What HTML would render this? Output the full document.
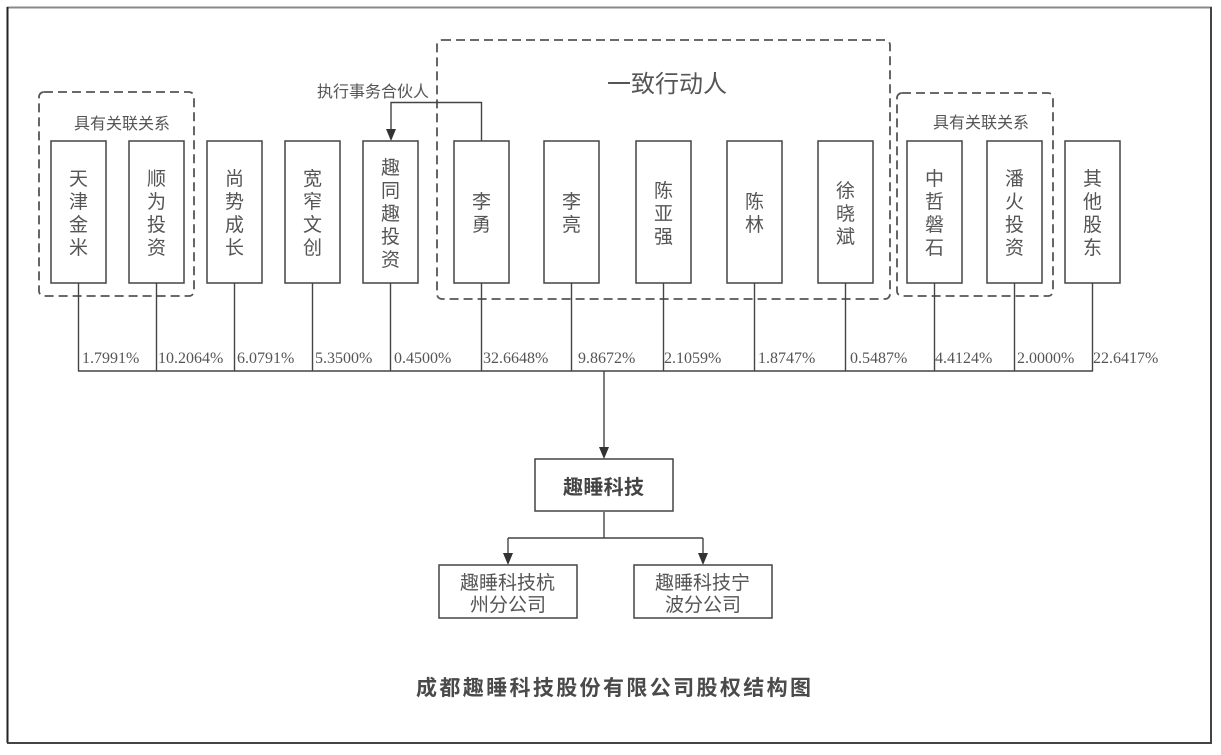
<!DOCTYPE html>
<html><head><meta charset="utf-8"><style>
html,body{margin:0;padding:0;background:#fff;}
svg{display:block;}
.cj{font-family:"Liberation Sans","Noto Sans CJK SC",sans-serif;fill:#555;}
.pc{font-family:"Liberation Serif",serif;font-size:16px;fill:#555;}
</style></head><body>
<svg width="1221" height="755" viewBox="0 0 1221 755" xmlns="http://www.w3.org/2000/svg">
<rect x="0" y="0" width="1221" height="755" fill="#fff"/>
<!-- outer frame -->
<line x1="7" y1="7.5" x2="1212" y2="7.5" stroke="#888" stroke-width="2"/>
<line x1="7.5" y1="7" x2="7.5" y2="743" stroke="#222" stroke-width="2"/>
<line x1="1211" y1="7" x2="1211" y2="743" stroke="#444" stroke-width="2"/>
<line x1="7" y1="743" x2="1212" y2="743" stroke="#444" stroke-width="2"/>

<!-- dashed groups -->
<g fill="none" stroke="#555" stroke-width="1.8" stroke-dasharray="9,5">
<rect x="39" y="92" width="155" height="204" rx="5"/>
<rect x="437" y="40" width="453" height="259" rx="5"/>
<rect x="897" y="93" width="156" height="203" rx="5"/>
</g>

<text class="cj" x="122" y="129" font-size="16" text-anchor="middle">具有关联关系</text>
<text class="cj" x="981" y="128" font-size="16" text-anchor="middle">具有关联关系</text>
<text class="cj" x="667" y="92" font-size="24" text-anchor="middle">一致行动人</text>
<text class="cj" x="373" y="97" font-size="16" text-anchor="middle">执行事务合伙人</text>

<!-- connectors -->
<g stroke="#444" stroke-width="1.4" fill="none">
<line x1="78.5" y1="283" x2="78.5" y2="371"/>
<line x1="156.5" y1="283" x2="156.5" y2="371"/>
<line x1="234.5" y1="283" x2="234.5" y2="371"/>
<line x1="312.5" y1="283" x2="312.5" y2="371"/>
<line x1="390.5" y1="283" x2="390.5" y2="371"/>
<line x1="481.5" y1="283" x2="481.5" y2="371"/>
<line x1="571.5" y1="283" x2="571.5" y2="371"/>
<line x1="663.5" y1="283" x2="663.5" y2="371"/>
<line x1="754.5" y1="283" x2="754.5" y2="371"/>
<line x1="845.5" y1="283" x2="845.5" y2="371"/>
<line x1="934.5" y1="283" x2="934.5" y2="371"/>
<line x1="1014.5" y1="283" x2="1014.5" y2="371"/>
<line x1="1092.5" y1="283" x2="1092.5" y2="371"/>
<line x1="78" y1="371" x2="1093" y2="371"/>
<line x1="604" y1="371" x2="604" y2="448"/>
<polyline points="481.5,141 481.5,102.5 391,102.5 391,130"/>
<line x1="604" y1="512" x2="604" y2="538"/>
<line x1="508" y1="538" x2="703" y2="538"/>
<line x1="508" y1="538" x2="508" y2="554"/>
<line x1="703" y1="538" x2="703" y2="554"/>
</g>
<g fill="#333">
<polygon points="386,129 396,129 391,141"/>
<polygon points="599,447 609,447 604,459"/>
<polygon points="503,553 513,553 508,565"/>
<polygon points="698,553 708,553 703,565"/>
</g>

<!-- shareholder boxes -->
<g fill="#fff" stroke="#444" stroke-width="1.5">
<rect x="51" y="141" width="55" height="142"/>
<rect x="129" y="141" width="55" height="142"/>
<rect x="207" y="141" width="55" height="142"/>
<rect x="285" y="141" width="55" height="142"/>
<rect x="363" y="141" width="55" height="142"/>
<rect x="454" y="141" width="55" height="142"/>
<rect x="544" y="141" width="55" height="142"/>
<rect x="636" y="141" width="55" height="142"/>
<rect x="727" y="141" width="55" height="142"/>
<rect x="818" y="141" width="55" height="142"/>
<rect x="907" y="141" width="55" height="142"/>
<rect x="987" y="141" width="55" height="142"/>
<rect x="1065" y="141" width="55" height="142"/>
<rect x="535" y="459" width="138" height="52"/>
<rect x="439" y="565" width="138" height="53"/>
<rect x="634" y="565" width="138" height="53"/>
</g>

<g class="cj" font-size="19" text-anchor="middle">
<text x="78.5" y="185">天</text><text x="78.5" y="208">津</text><text x="78.5" y="231">金</text><text x="78.5" y="254">米</text>
<text x="156.5" y="185">顺</text><text x="156.5" y="208">为</text><text x="156.5" y="231">投</text><text x="156.5" y="254">资</text>
<text x="234.5" y="185">尚</text><text x="234.5" y="208">势</text><text x="234.5" y="231">成</text><text x="234.5" y="254">长</text>
<text x="312.5" y="185">宽</text><text x="312.5" y="208">窄</text><text x="312.5" y="231">文</text><text x="312.5" y="254">创</text>
<text x="390.5" y="174">趣</text><text x="390.5" y="197">同</text><text x="390.5" y="220">趣</text><text x="390.5" y="243">投</text><text x="390.5" y="266">资</text>
<text x="481.5" y="208">李</text><text x="481.5" y="231">勇</text>
<text x="571.5" y="208">李</text><text x="571.5" y="231">亮</text>
<text x="663.5" y="197">陈</text><text x="663.5" y="220">亚</text><text x="663.5" y="243">强</text>
<text x="754.5" y="208">陈</text><text x="754.5" y="231">林</text>
<text x="845.5" y="197">徐</text><text x="845.5" y="220">晓</text><text x="845.5" y="243">斌</text>
<text x="934.5" y="185">中</text><text x="934.5" y="208">哲</text><text x="934.5" y="231">磐</text><text x="934.5" y="254">石</text>
<text x="1014.5" y="185">潘</text><text x="1014.5" y="208">火</text><text x="1014.5" y="231">投</text><text x="1014.5" y="254">资</text>
<text x="1092.5" y="185">其</text><text x="1092.5" y="208">他</text><text x="1092.5" y="231">股</text><text x="1092.5" y="254">东</text>
</g>

<!-- percentages -->
<g class="pc">
<text x="82" y="363">1.7991%</text>
<text x="158" y="363">10.2064%</text>
<text x="237" y="363">6.0791%</text>
<text x="315" y="363">5.3500%</text>
<text x="394" y="363">0.4500%</text>
<text x="483" y="363">32.6648%</text>
<text x="578" y="363">9.8672%</text>
<text x="664" y="363">2.1059%</text>
<text x="758" y="363">1.8747%</text>
<text x="850" y="363">0.5487%</text>
<text x="935" y="363">4.4124%</text>
<text x="1017" y="363">2.0000%</text>
<text x="1093" y="363">22.6417%</text>
</g>

<text x="563" y="494" font-family="Liberation Sans, Noto Sans CJK SC, sans-serif" font-size="20" font-weight="bold" fill="#444" textLength="81" lengthAdjust="spacing">趣睡科技</text>

<g class="cj" font-size="19">
<text x="460" y="589" textLength="95" lengthAdjust="spacing">趣睡科技杭</text>
<text x="470" y="611" textLength="76" lengthAdjust="spacing">州分公司</text>
<text x="655" y="589" textLength="95" lengthAdjust="spacing">趣睡科技宁</text>
<text x="665" y="611" textLength="76" lengthAdjust="spacing">波分公司</text>
</g>

<text x="416" y="695" font-family="Liberation Sans, Noto Sans CJK SC, sans-serif" font-size="21" font-weight="bold" fill="#4a4a4a" textLength="395" lengthAdjust="spacing">成都趣睡科技股份有限公司股权结构图</text>
</svg>
</body></html>
